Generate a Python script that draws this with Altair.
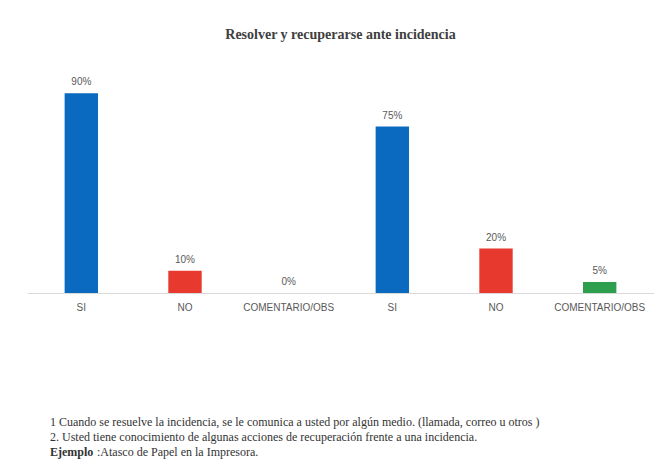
import altair as alt
import pandas as pd

# ---- data ----
categories = ["SI", "NO", "COMENTARIO/OBS", "SI", "NO", "COMENTARIO/OBS"]
groups = [1, 1, 1, 2, 2, 2]
values = [90, 10, 0, 75, 20, 5]
labels = ["90%", "10%", "0%", "75%", "20%", "5%"]
color_domain = ["SI", "NO", "COMENTARIO/OBS"]
color_range = ["#0A6AC0", "#E8392F", "#2E9E4F"]

title_text = "Resolver y recuperarse ante incidencia"
footnotes = [
    "1 Cuando se resuelve la incidencia, se le comunica a usted por algún medio. (llamada, correo u otros )",
    "2. Usted tiene conocimiento de algunas acciones de recuperación frente a una incidencia.",
]
example_bold = "Ejemplo"
example_rest = ":Atasco de Papel en la Impresora."

df = pd.DataFrame({
    "key": [f"{g}|{c}" for g, c in zip(groups, categories)],
    "cat": categories,
    "value": values,
    "label": labels,
})
order = list(df["key"])

W, H = 627, 222

x = alt.X("key:N", sort=order,
          scale=alt.Scale(paddingInner=0.678, paddingOuter=0.363),
          axis=alt.Axis(title=None, labelAngle=0, ticks=False,
                        domainColor="#d9d9d9", domainWidth=1,
                        labelColor="#595959", labelFont="Liberation Sans",
                        labelFontSize=10, labelPadding=9,
                        labelExpr="split(datum.label, '|')[1]"))
y = alt.Y("value:Q", scale=alt.Scale(domain=[0, 100]), axis=None)

base = alt.Chart(df)
bars = base.mark_bar().encode(
    x=x, y=y,
    color=alt.Color("cat:N", scale=alt.Scale(domain=color_domain, range=color_range), legend=None),
)
txt = base.mark_text(baseline="bottom", dy=-6, font="Liberation Sans", fontSize=10,
                     color="#595959").encode(x=x, y=y, text="label:N")

serif = "Liberation Serif"
fn_layers = []
for i, line in enumerate(footnotes):
    fn_layers.append(
        alt.Chart(pd.DataFrame({"t": [line]})).mark_text(
            align="left", baseline="middle", font=serif, fontSize=12, color="#333333"
        ).encode(x=alt.value(23), y=alt.value(351 + 15 * i), text="t:N")
    )
fn_layers.append(
    alt.Chart(pd.DataFrame({"t": [example_bold]})).mark_text(
        align="left", baseline="middle", font=serif, fontSize=12, fontWeight="bold", color="#333333"
    ).encode(x=alt.value(23), y=alt.value(381), text="t:N")
)
fn_layers.append(
    alt.Chart(pd.DataFrame({"t": [example_rest]})).mark_text(
        align="left", baseline="middle", font=serif, fontSize=12, color="#333333"
    ).encode(x=alt.value(70), y=alt.value(381), text="t:N")
)

chart = alt.layer(bars, txt, *fn_layers).properties(
    width=W, height=H,
    title=alt.TitleParams(title_text, font=serif, fontSize=14, fontWeight="bold",
                          color="#404040", anchor="middle", baseline="bottom", offset=15),
    autosize=alt.AutoSizeParams(type="none"),
    padding={"left": 27, "top": 71, "right": 0, "bottom": 167},
).configure(
    background="white",
    view=alt.ViewConfig(stroke="transparent", strokeWidth=0),
)

chart.save("out.html", embed_options={"renderer": "svg", "actions": False})
